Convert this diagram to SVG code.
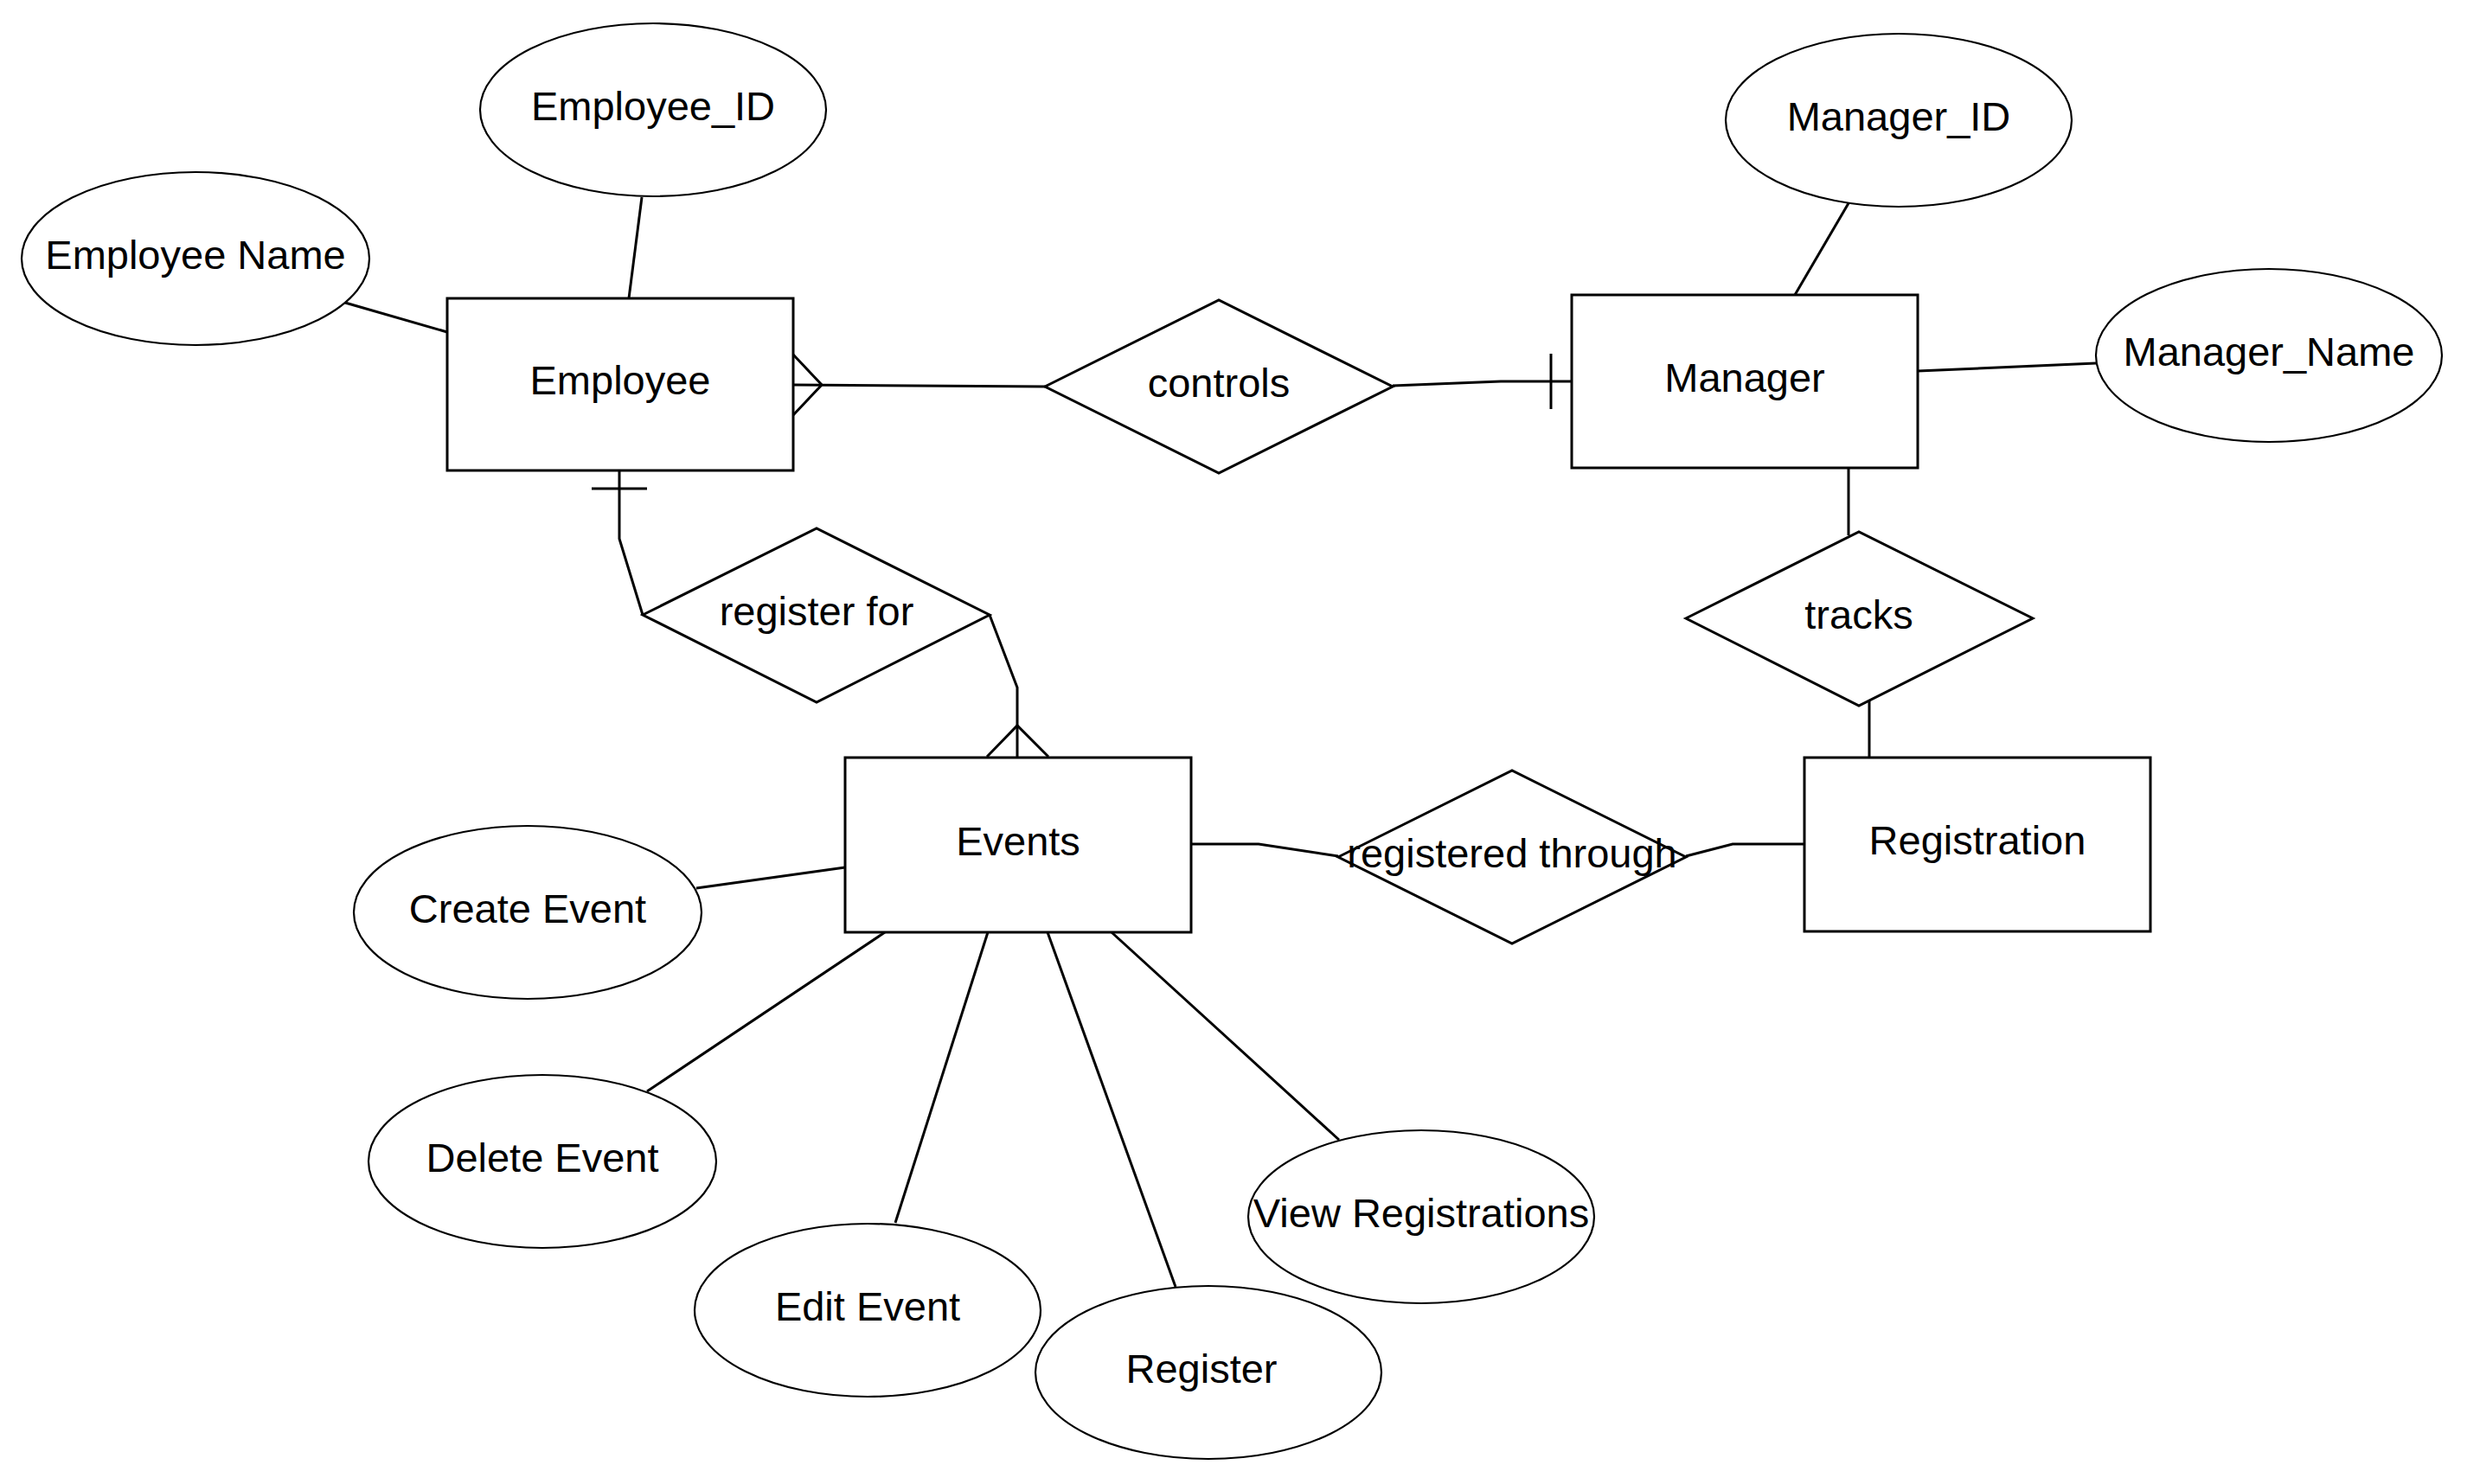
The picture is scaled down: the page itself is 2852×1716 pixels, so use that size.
<svg xmlns="http://www.w3.org/2000/svg" width="2852" height="1716" viewBox="0 0 2852 1716">
<style>
.ent{fill:#fff;stroke:#000;stroke-width:3}
.rel{fill:#fff;stroke:#000;stroke-width:3}
.att{fill:#fff;stroke:#000;stroke-width:2.2}
.lbl{font-family:"Liberation Sans",Arial,sans-serif;font-size:47px;fill:#000;text-anchor:middle}
#connectors path,#connectors line{fill:none;stroke:#000;stroke-width:3}
</style>
<rect width="2852" height="1716" fill="#fff"/>
<g id="connectors">
<line x1="742" y1="228" x2="727" y2="345"/>
<line x1="399" y1="350" x2="517" y2="384"/>
<path d="M917,410 L950,445 L917,480"/>
<path d="M917,445 L1208,447"/>
<path d="M1610,446 L1735,441 L1817,441"/>
<line x1="1793" y1="409" x2="1793" y2="473"/>
<line x1="2137" y1="235" x2="2075" y2="341"/>
<line x1="2217" y1="429" x2="2423" y2="420"/>
<line x1="2137" y1="541" x2="2137" y2="619"/>
<line x1="2161" y1="810" x2="2161" y2="876"/>
<path d="M716,544 L716,623 L743,711"/>
<line x1="684" y1="565" x2="748" y2="565"/>
<path d="M1144,711 L1176,795 L1176,876"/>
<path d="M1141,875 L1176,839 L1212,875"/>
<path d="M1377,976 L1455,976 L1547,990"/>
<path d="M1949,990 L2003,976 L2086,976"/>
<line x1="805" y1="1027" x2="977" y2="1003"/>
<line x1="748" y1="1262" x2="1023" y2="1078"/>
<line x1="1035" y1="1414" x2="1142" y2="1078"/>
<line x1="1359" y1="1488" x2="1211" y2="1078"/>
<line x1="1548" y1="1318" x2="1285" y2="1078"/>
</g>
<g id="employee"><rect class="ent" x="517" y="345" width="400" height="199"/><text class="lbl" x="717" y="456">Employee</text></g>
<g id="manager"><rect class="ent" x="1817" y="341" width="400" height="200"/><text class="lbl" x="2017" y="453">Manager</text></g>
<g id="events"><rect class="ent" x="977" y="876" width="400" height="202"/><text class="lbl" x="1177" y="989">Events</text></g>
<g id="registration"><rect class="ent" x="2086" y="876" width="400" height="201"/><text class="lbl" x="2286" y="988">Registration</text></g>
<g id="controls"><polygon class="rel" points="1208,447 1409,347 1610,447 1409,547"/><text class="lbl" x="1409" y="459">controls</text></g>
<g id="register_for"><polygon class="rel" points="743,711 944,611 1144,711 944,812"/><text class="lbl" x="944" y="723">register for</text></g>
<g id="tracks"><polygon class="rel" points="1949,715 2149,615 2350,715 2149,816"/><text class="lbl" x="2149" y="727">tracks</text></g>
<g id="registered_through"><polygon class="rel" points="1547,991 1748,891 1949,991 1748,1091"/><text class="lbl" x="1748" y="1003">registered through</text></g>
<g id="employee_id"><ellipse class="att" cx="755" cy="127" rx="200" ry="100"/><text class="lbl" x="755" y="139">Employee_ID</text></g>
<g id="employee_name"><ellipse class="att" cx="226" cy="299" rx="201" ry="100"/><text class="lbl" x="226" y="311">Employee Name</text></g>
<g id="manager_id"><ellipse class="att" cx="2195" cy="139" rx="200" ry="100"/><text class="lbl" x="2195" y="151">Manager_ID</text></g>
<g id="manager_name"><ellipse class="att" cx="2623" cy="411" rx="200" ry="100"/><text class="lbl" x="2623" y="423">Manager_Name</text></g>
<g id="create_event"><ellipse class="att" cx="610" cy="1055" rx="201" ry="100"/><text class="lbl" x="610" y="1067">Create Event</text></g>
<g id="delete_event"><ellipse class="att" cx="627" cy="1343" rx="201" ry="100"/><text class="lbl" x="627" y="1355">Delete Event</text></g>
<g id="edit_event"><ellipse class="att" cx="1003" cy="1515" rx="200" ry="100"/><text class="lbl" x="1003" y="1527">Edit Event</text></g>
<g id="register"><ellipse class="att" cx="1397" cy="1587" rx="200" ry="100"/><text class="lbl" x="1389" y="1599">Register</text></g>
<g id="view_registrations"><ellipse class="att" cx="1643" cy="1407" rx="200" ry="100"/><text class="lbl" x="1643" y="1419">View Registrations</text></g>
</svg>
